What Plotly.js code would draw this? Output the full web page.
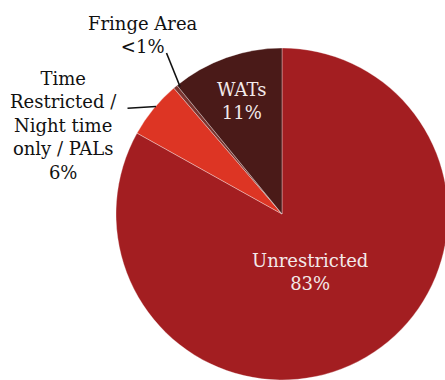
<!DOCTYPE html>
<html>
<head>
<meta charset="utf-8">
<script src="https://cdn.plot.ly/plotly-3.0.1.min.js"></script>
<style>
html, body { margin:0; padding:0; overflow:hidden; background:#fff; width:445px; height:380px; }
#chart { width:460px; height:400px; }
</style>
</head>
<body>
<div id="chart"></div>
<script>
// Data
const categories = ["Unrestricted", "Time<br>Restricted /<br>Night time<br>only / PALs", "Fringe Area", "WATs"];
const values = [83.1, 5.6, 0.4, 10.9];
const pctLabels = ["83%", "6%", "<1%", "11%"];
const colors = ["#A31E21", "#DD3524", "#7A3530", "#4A1A18"];

// Layout geometry (pixels)
const W = 460, H = 400;
const M = {l:116, r:12, t:48, b:20};
const pw = W - M.l - M.r, ph = H - M.t - M.b;
const px = x => (x - M.l) / pw;
const py = y => 1 - (y - M.t) / ph;

const font = "DejaVu Serif, Georgia, serif";
const labelPos = [
  {x:310, y:272, color:"#F3EAEA"},
  {x:63,  y:125, color:"#111111"},
  {x:143, y:35,  color:"#111111"},
  {x:242, y:101, color:"#F3EAEA"}
];

const annotations = categories.map((c, i) => ({
  text: c + "<br>" + pctLabels[i].replace("<", "&lt;"),
  x: px(labelPos[i].x), y: py(labelPos[i].y),
  xref: "paper", yref: "paper",
  xanchor: "center", yanchor: "middle",
  showarrow: false,
  align: "center",
  font: {family: font, size: 18, color: labelPos[i].color}
}));

const shapes = [
  {type:"line", xref:"paper", yref:"paper", x0:px(166.5), y0:py(53), x1:px(180), y1:py(86.5), line:{color:"#111", width:1.6}},
  {type:"line", xref:"paper", yref:"paper", x0:px(127.5), y0:py(108.3), x1:px(156), y1:py(106.5), line:{color:"#111", width:1.6}}
];

const trace = {
  type: "pie",
  labels: categories,
  values: values,
  sort: false,
  direction: "clockwise",
  rotation: 0,
  textinfo: "none",
  hoverinfo: "none",
  marker: {colors: colors, line: {color: "rgba(255,255,255,0.55)", width: 0.6}},
  domain: {x:[0,1], y:[0,1]},
  automargin: false
};

Plotly.newPlot("chart", [trace], {
  width: W, height: H,
  margin: M,
  showlegend: false,
  paper_bgcolor: "#fff",
  annotations: annotations,
  shapes: shapes
}, {staticPlot: true});
</script>
</body>
</html>
